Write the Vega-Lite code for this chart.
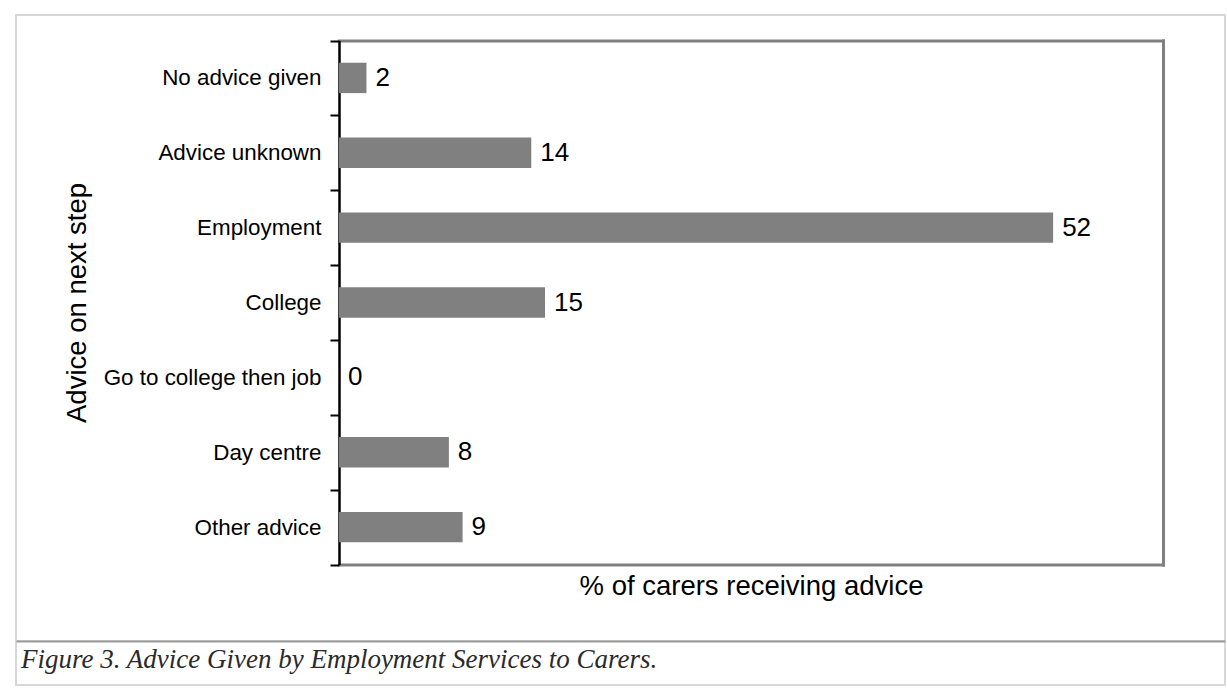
{
  "$schema": "https://vega.github.io/schema/vega-lite/v6.json",
  "padding": {"left": 15, "top": 3, "right": 1, "bottom": 3},
  "background": "white",
  "config": {
    "font": "Liberation Sans",
    "view": {"stroke": "#d7d7d7", "strokeWidth": 2},
    "axis": {"grid": false, "minExtent": 0}
  },
  "spacing": 0,
  "bounds": "flush",
  "resolve": {"scale": {"x": "independent", "y": "independent"}},
  "vconcat": [
    {
      "width": 1209,
      "height": 626,
      "data": {"values": [
        {"advice": "No advice given", "pct": 2},
        {"advice": "Advice unknown", "pct": 14},
        {"advice": "Employment", "pct": 52},
        {"advice": "College", "pct": 15},
        {"advice": "Go to college then job", "pct": 0},
        {"advice": "Day centre", "pct": 8},
        {"advice": "Other advice", "pct": 9}
      ]},
      "layer": [
        {
          "mark": {"type": "bar", "color": "#808080", "height": {"band": 0.406}},
          "encoding": {
            "y": {
              "field": "advice", "type": "nominal", "sort": null,
              "scale": {"range": [25.5, 549.5], "paddingInner": 0, "paddingOuter": 0},
              "axis": {
                "orient": "left", "offset": -323, "maxExtent": 300,
                "title": "Advice on next step",
                "titleFontSize": 27.5, "titleFontWeight": "normal", "titleColor": "black", "titlePadding": 12,
                "labelFontSize": 22.4, "labelColor": "black", "labelPadding": 9, "labelLimit": 400,
                "tickSize": 9, "tickWidth": 2, "tickColor": "black", "tickBand": "extent",
                "domainColor": "black", "domainWidth": 2.5
              }
            },
            "x": {
              "field": "pct", "type": "quantitative",
              "scale": {"domain": [0, 60], "range": [323, 1147], "nice": false, "zero": true},
              "axis": {
                "orient": "bottom", "offset": -76.5,
                "title": "% of carers receiving advice",
                "titleFontSize": 27.5, "titleFontWeight": "normal", "titleColor": "black", "titlePadding": 8,
                "labels": false, "ticks": false,
                "domainColor": "#808080", "domainWidth": 3, "domainCap": "square"
              }
            }
          }
        },
        {
          "mark": {"type": "text", "align": "left", "baseline": "middle", "dx": 9, "fontSize": 26, "color": "black"},
          "encoding": {
            "y": {
              "field": "advice", "type": "nominal", "sort": null,
              "axis": {
                "orient": "right", "offset": -62, "title": null,
                "labels": false, "ticks": false,
                "domainColor": "#808080", "domainWidth": 3, "domainCap": "square"
              }
            },
            "x": {
              "field": "pct", "type": "quantitative",
              "axis": {
                "orient": "top", "offset": -25.5, "title": null,
                "labels": false, "ticks": false,
                "domainColor": "#808080", "domainWidth": 3, "domainCap": "square"
              }
            },
            "text": {"field": "pct", "type": "quantitative"}
          }
        }
      ],
      "resolve": {"axis": {"x": "independent", "y": "independent"}}
    },
    {
      "width": 1209,
      "height": 44,
      "data": {"values": [{"caption": "Figure 3. Advice Given by Employment Services to Carers."}]},
      "mark": {"type": "text", "align": "left", "baseline": "alphabetic", "dx": 5, "dy": 5, "font": "Liberation Serif", "fontStyle": "italic", "fontSize": 27, "color": "#2a2a2a"},
      "encoding": {
        "x": {
          "datum": 0, "type": "quantitative",
          "scale": {"domain": [0, 1], "nice": false},
          "axis": {"orient": "top", "title": null, "labels": false, "ticks": false, "domainColor": "#9a9a9a", "domainWidth": 2}
        },
        "text": {"field": "caption", "type": "nominal"}
      }
    }
  ]
}
